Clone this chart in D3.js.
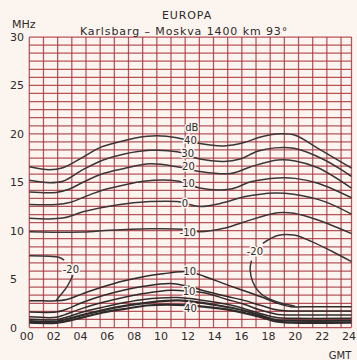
<!DOCTYPE html>
<html><head><meta charset="utf-8">
<script src="https://cdn.jsdelivr.net/npm/d3@7"></script>
<style>
html,body{margin:0;padding:0;background:#fcf4ef;}
svg{display:block;}
text{font-family:"DejaVu Sans","Liberation Sans",sans-serif;fill:#2e2a2a;}
</style></head>
<body>
<svg id="c" width="357" height="360"></svg>
<script>
// ---- data ----
const hourTicks = [0,2,4,6,8,10,12,14,16,18,20,22,24];
const hourLabels = ["00","02","04","06","08","10","12","14","16","18","20","22","24"];
const mhzTicks = [0,5,10,15,20,25,30];

// upper (MUF / dB) curves: [GMT hour, MHz]
const db40 = [[0,16.6],[1.5,16.3],[2.5,16.5],[4,17.6],[5.3,18.6],[6.8,19.2],[8,19.6],[9.5,19.8],[11,19.6],[12.7,19.0],[14.5,18.75],[16,19.1],[17.3,19.7],[18.7,20.0],[19.8,19.85],[21.5,18.5],[24,16.45]];
const db30 = [[0,15.2],[1.5,14.95],[2.5,15.1],[4,16.3],[5.5,17.3],[7,17.9],[9,18.3],[11,18.15],[12.7,17.4],[14.5,17.15],[15.7,17.4],[17,18.2],[18.3,18.55],[19.7,18.5],[22,17.3],[24,15.6]];
const db20 = [[0,14.0],[2,13.95],[3,14.3],[4,15.0],[5.5,15.9],[7,16.4],[9,16.9],[11,16.6],[12.7,16.1],[15,15.9],[16.5,16.6],[18.5,17.3],[19.8,17.2],[21.5,16.5],[24,14.4]];
const db10 = [[0,12.7],[2,12.7],[3,12.9],[4.5,13.7],[5.5,14.2],[7,14.7],[8.5,15.1],[10.5,15.2],[11.5,15.0],[12.7,14.4],[15,14.3],[16.5,15.05],[18.5,15.45],[19.8,15.4],[21.5,14.9],[24,13.4]];
const db0  = [[0,11.28],[2.5,11.3],[4,11.95],[6.5,12.65],[9,13.0],[11,13.0],[12.7,12.5],[14.5,12.9],[16,13.5],[18.3,13.9],[19.7,13.75],[22,13.0],[24,11.7]];
const dbM10 = [[0,9.9],[4,9.85],[6,10.05],[9,10.2],[11.5,10.15],[12.7,9.9],[14.5,10.25],[16,10.9],[18.5,11.85],[19.7,11.8],[21.5,11.1],[24,9.7]];
const dbM20a = [[0,7.4],[1.5,7.35],[2.2,7.25],[2.6,6.95]];
const dbM20b = [[3.25,5.4],[2.8,4.2],[2.3,3.3],[2.0,2.8]];
const dbM20c = [[17.4,8.7],[18.5,9.5],[19.7,9.55],[21,8.9],[22.5,7.9],[24,6.8]];
const dbM20d = [[16.55,6.9],[16.45,6.0],[16.65,4.7],[17.1,3.7],[17.8,3.0],[18.8,2.5],[19.8,2.2]];

// lower curves
const lowA = [[0,2.75],[1,2.75],[2,2.75],[2.8,2.9],[4,3.5],[5.5,4.2],[7,4.8],[8.5,5.25],[10,5.55],[11.3,5.75],[12.2,5.65],[13,5.3],[14.75,4.4],[16,3.8],[17.2,3.2],[18.5,2.5],[19.5,2.15],[21,2.15],[24,2.15]];
const lowB = [[0,1.6],[2,1.6],[2.6,1.8],[4,2.6],[5.5,3.3],[7,3.85],[8.5,4.25],[10.5,4.55],[12,4.2],[13,3.8],[14.75,3.2],[16,2.8],[17.2,2.3],[18.5,1.8],[19.5,1.7],[21,1.7],[24,1.7]];
const lowC = [[0,1.1],[2,1.05],[2.6,1.3],[4,2.0],[5.5,2.6],[7,3.1],[8.5,3.5],[10.5,3.85],[12,3.75],[13,3.6],[14.75,2.9],[16,2.4],[17.2,1.8],[18.5,1.35],[19.5,1.3],[24,1.3]];
const lowD = [[0,0.85],[2,0.8],[2.6,1.0],[4,1.6],[5.5,2.1],[7,2.55],[8.5,2.9],[11,3.1],[13,2.8],[14.75,2.4],[16,1.95],[17.2,1.45],[18.5,1.0],[19.5,0.95],[24,0.95]];
const lowE = [[0,0.65],[2,0.62],[2.6,0.8],[4,1.3],[5.5,1.8],[7,2.2],[9,2.6],[11,2.8],[12,2.7],[14,2.3],[16,1.75],[17.2,1.25],[18.5,0.75],[19.5,0.7],[24,0.7]];
const lowF = [[0,0.5],[2,0.48],[2.6,0.6],[4,1.05],[5.5,1.55],[7,1.9],[9,2.3],[11.8,2.3],[13,2.15],[15,1.8],[17.2,1.1],[18.5,0.6],[19.5,0.5],[24,0.5]];

const curveLabels = [
  {t:"dB", h:12.1, v:20.65},
  {t:"40", h:12.0, v:19.36},
  {t:"30", h:11.8, v:17.97},
  {t:"20", h:11.85, v:16.6},
  {t:"10", h:11.85, v:14.87},
  {t:"0",  h:11.6, v:12.8},
  {t:"-10", h:11.8, v:9.86},
  {t:"-20", h:16.8, v:7.9},
  {t:"-20", h:3.1, v:6.04},
  {t:"10", h:11.95, v:5.76},
  {t:"10", h:11.9, v:3.67},
  {t:"40", h:12.0, v:2.0}
];

// ---- drawing ----
const svg = d3.select("#c");
const x = d3.scaleLinear([0,24],[29.3,351.5]);
const y = d3.scaleLinear([0,30],[327.5,37]);

// graph-paper grid
const gridH = d3.range(0,37).map(k => k*30/36);
const gridStepHours = 1.0555;
const gridV = d3.range(0,23).map(k => k*gridStepHours).concat([24]);
const grid = svg.append("g").attr("stroke","#a5323b").attr("stroke-opacity",0.82).attr("stroke-width",1.25);
grid.selectAll("line.h").data(gridH).join("line").attr("class","h")
  .attr("x1",x(0)).attr("x2",x(24)).attr("y1",d=>y(d)).attr("y2",d=>y(d));
grid.selectAll("line.v").data(gridV).join("line").attr("class","v")
  .attr("x1",d=>x(d)).attr("x2",d=>x(d)).attr("y1",y(0)).attr("y2",y(30));

const line = d3.line().x(d=>x(d[0])).y(d=>y(d[1])).curve(d3.curveCatmullRom.alpha(0.5));
const upper = [db40,db30,db20,db10,db0,dbM10,dbM20a,dbM20b,dbM20c,dbM20d];
svg.append("g").selectAll("path").data(upper).join("path")
  .attr("d",line).attr("fill","none").attr("stroke","#3a3636").attr("stroke-width",1.5);
const lower = [lowA,lowB,lowC,lowD,lowE,lowF];
svg.append("g").selectAll("path").data(lower).join("path")
  .attr("d",line).attr("fill","none").attr("stroke","#2f2b2b")
  .attr("stroke-width",(d,i)=> i>=4 ? 2.2 : 1.5);

// curve labels with paper halo
svg.append("g").selectAll("text").data(curveLabels).join("text")
  .attr("x",d=>x(d.h)).attr("y",d=>y(d.v)).attr("dy","0.35em")
  .attr("text-anchor","middle").attr("font-size",10)
  .attr("stroke","#fcf4ef").attr("stroke-width",3).attr("paint-order","stroke")
  .text(d=>d.t);

// x axis
const xAxis = d3.axisBottom(x).tickValues(hourTicks).tickFormat((d,i)=>hourLabels[i]).tickSize(0);
const gx = svg.append("g").attr("transform",`translate(0,${y(0)})`).call(xAxis);
gx.select(".domain").remove();
gx.selectAll("text").attr("font-size",11).attr("dy","0.9em").attr("dx",-3)
  .style("font-family","DejaVu Sans").attr("fill","#2e2a2a");

// y axis
const yAxis = d3.axisLeft(y).tickValues(mhzTicks).tickSize(0);
const gy = svg.append("g").attr("transform",`translate(${x(0)},0)`).call(yAxis);
gy.select(".domain").remove();
gy.selectAll("text").attr("font-size",11).attr("text-anchor","start").attr("x",10 - x(0))
  .style("font-family","DejaVu Sans").attr("fill","#2e2a2a");

// titles
svg.append("text").attr("x",12).attr("y",24).attr("dy","0.35em").attr("font-size",11).text("MHz");
svg.append("text").attr("x",187).attr("y",15).attr("dy","0.35em").attr("text-anchor","middle").attr("font-size",11).attr("letter-spacing",0.9).text("EUROPA");
svg.append("text").attr("x",184).attr("y",31.5).attr("dy","0.35em").attr("text-anchor","middle").attr("font-size",11).attr("letter-spacing",0.9).text("Karlsbarg \u2013 Moskva  1400 km  93°");
svg.append("text").attr("x",340).attr("y",355).attr("dy","0.35em").attr("text-anchor","middle").attr("font-size",10).text("GMT");
</script>
</body></html>
